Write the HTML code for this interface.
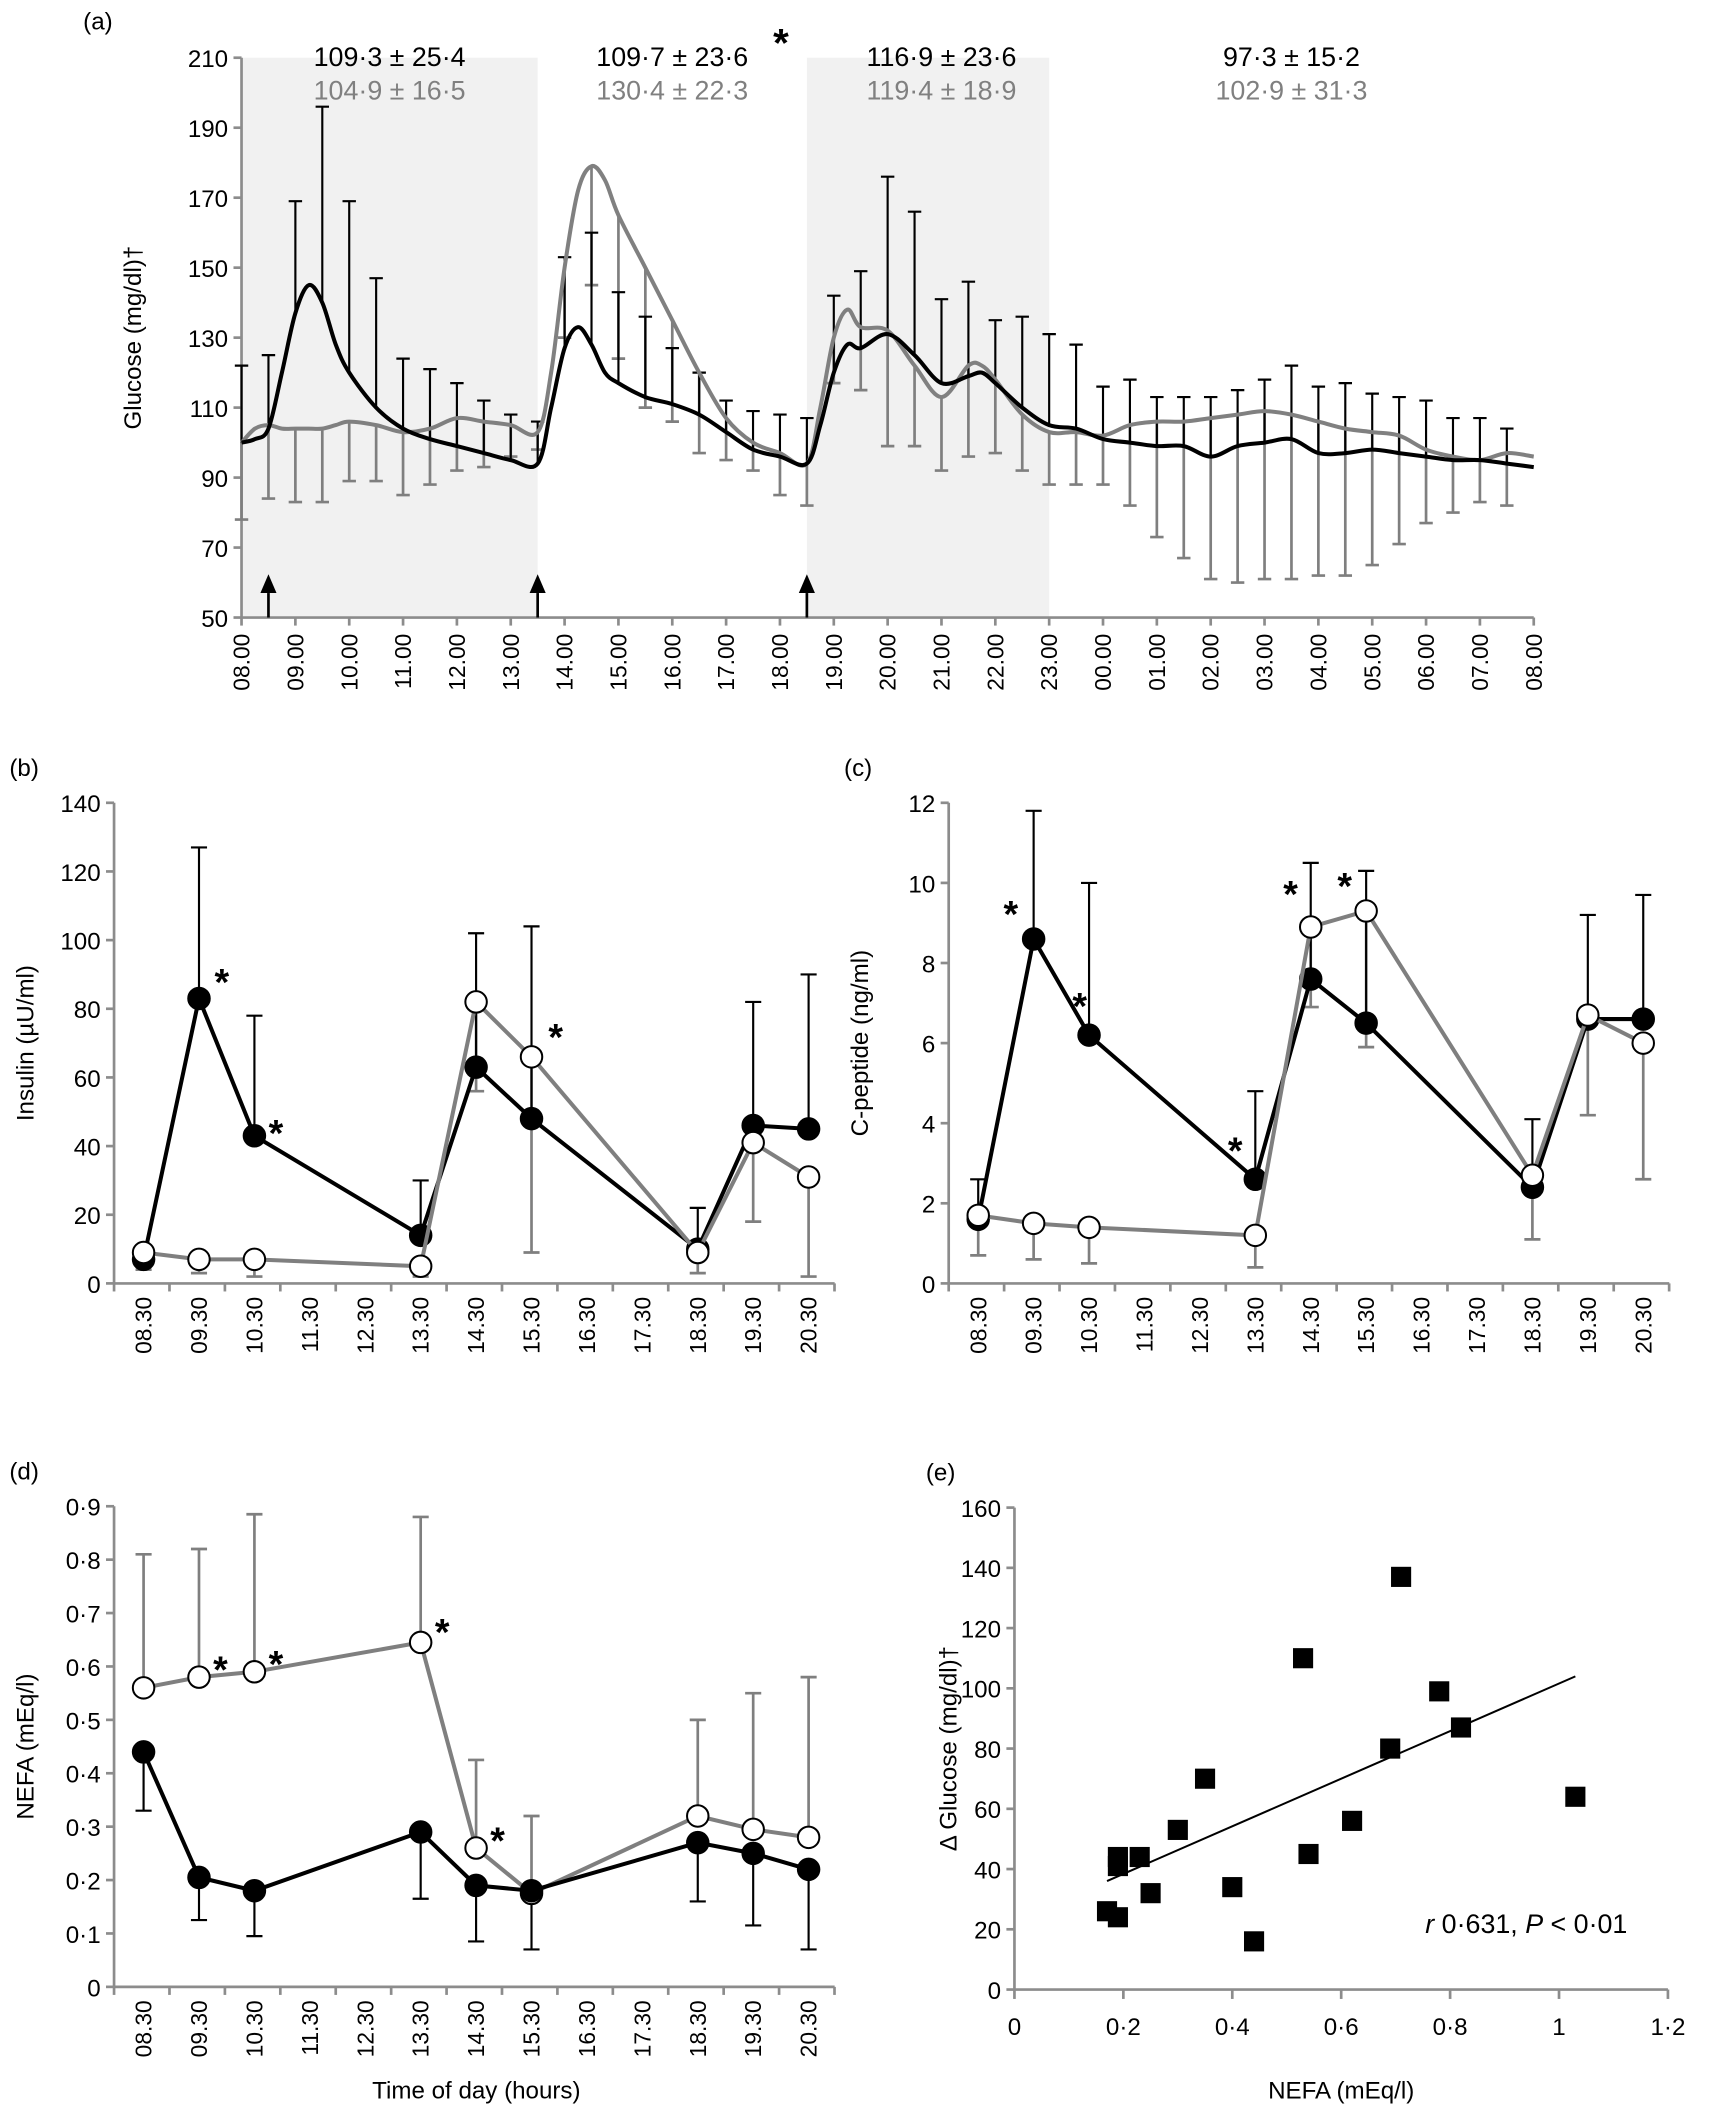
<!DOCTYPE html>
<html><head><meta charset="utf-8"><style>
html,body{margin:0;padding:0;background:#fff}
svg{display:block}
text{font-family:"Liberation Sans",sans-serif}
</style></head><body>
<svg id="fig" width="1731" height="2105" viewBox="0 0 1290 1568" preserveAspectRatio="none" xmlns="http://www.w3.org/2000/svg"></svg>
<script>
// ---------- Panel (a) data: glucose (time in hours from 08:00) ----------
const gTimes=[0,0.25,0.5,0.75,1,1.25,1.5,1.75,2,2.5,3,3.5,4,4.5,5,5.5,5.75,6,6.25,6.5,6.75,7,7.5,8,8.5,9,9.5,10,10.5,10.75,11,11.25,11.5,12,12.5,13,13.5,13.75,14,14.5,15,15.5,16,16.5,17,17.5,18,18.5,19,19.5,20,20.5,21,21.5,22,22.5,23,23.5,24];
const gBlack=[100,101,104,120,137,145,140,128,120,110,104,101,99,97,95,94,110,127,133,128,120,117,113,111,108,103,98,96,94,105,120,128,127,131,125,117,119,120,117,110,105,104,101,100,99,99,96,99,100,101,97,97,98,97,96,95,95,94,93];
const gGray=[100,104,105,104,104,104,104,105,106,105,103,104,107,106,105,103,120,150,172,179,175,165,150,135,120,107,100,97,94,110,130,138,133,132,122,113,122,122,118,108,103,103,102,105,106,106,107,108,109,108,106,104,103,102,98,96,95,97,96];
const ebTimes=[0,0.5,1,1.5,2,2.5,3,3.5,4,4.5,5,5.5,6,6.5,7,7.5,8,8.5,9,9.5,10,10.5,11,11.5,12,12.5,13,13.5,14,14.5,15,15.5,16,16.5,17,17.5,18,18.5,19,19.5,20,20.5,21,21.5,22,22.5,23,23.5];
const ebBlackTop=[122,125,169,196,169,147,124,121,117,112,108,106,153,160,143,136,127,120,112,109,108,107,142,149,176,166,141,146,135,136,131,128,116,118,113,113,113,115,118,122,116,117,114,113,112,107,107,104];
const ebGrayBot=[78,84,83,83,89,89,85,88,92,93,96,98,130,145,124,110,106,97,95,92,85,82,117,115,99,99,92,96,97,92,88,88,88,82,73,67,61,60,61,61,62,62,65,71,77,80,83,82];
const aTicks=[50,70,90,110,130,150,170,190,210];
const aHours=["08.00","09.00","10.00","11.00","12.00","13.00","14.00","15.00","16.00","17.00","18.00","19.00","20.00","21.00","22.00","23.00","00.00","01.00","02.00","03.00","04.00","05.00","06.00","07.00","08.00"];

// ---------- Panels b,c,d categories ----------
const cats=["08.30","09.30","10.30","11.30","12.30","13.30","14.30","15.30","16.30","17.30","18.30","19.30","20.30"];
const sampleIdx=[0,1,2,5,6,7,10,11,12];
const insB=[7,83,43,14,63,48,10,46,45];
const insBTop=[9,127,78,30,102,104,22,82,90];
const insG=[9,7,7,5,82,66,9,41,31];
const insGBot=[4,3,2,2,56,9,3,18,2];
const cpB=[1.6,8.6,6.2,2.6,7.6,6.5,2.4,6.6,6.6];
const cpBTop=[2.6,11.8,10.0,4.8,10.5,10.3,4.1,9.2,9.7];
const cpG=[1.7,1.5,1.4,1.2,8.9,9.3,2.7,6.7,6.0];
const cpGBot=[0.7,0.6,0.5,0.4,6.9,5.9,1.1,4.2,2.6];
const nefaB=[0.44,0.205,0.18,0.29,0.19,0.18,0.27,0.25,0.22];
const nefaBBot=[0.33,0.125,0.095,0.165,0.085,0.07,0.16,0.115,0.07];
const nefaG=[0.56,0.58,0.59,0.645,0.26,0.175,0.32,0.295,0.28];
const nefaGTop=[0.81,0.82,0.885,0.88,0.425,0.32,0.50,0.55,0.58];

// ---------- Panel (e) scatter ----------
const eX=[0.17,0.19,0.19,0.19,0.23,0.25,0.30,0.35,0.40,0.44,0.53,0.54,0.62,0.69,0.71,0.78,0.82,1.03];
const eY=[26,24,41,44,44,32,53,70,34,16,110,45,56,80,137,99,87,64];
const eFit=[22.6,79];

const svg=document.getElementById('fig');
const NS='http://www.w3.org/2000/svg';
function el(tag,attrs,parent,txt){const e=document.createElementNS(NS,tag);for(const k in attrs)e.setAttribute(k,attrs[k]);if(txt!==undefined)e.textContent=txt;(parent||svg).appendChild(e);return e;}
const AX='#8c8c8c', GR='#7f7f7f';

function catmull(pts){let d='M'+pts[0][0]+','+pts[0][1];for(let i=0;i<pts.length-1;i++){const p0=pts[i-1]||pts[i],p1=pts[i],p2=pts[i+1],p3=pts[i+2]||p2;d+=' C'+(p1[0]+(p2[0]-p0[0])/6)+','+(p1[1]+(p2[1]-p0[1])/6)+' '+(p2[0]-(p3[0]-p1[0])/6)+','+(p2[1]-(p3[1]-p1[1])/6)+' '+p2[0]+','+p2[1];}return d;}

// ===== Panel A =====
{
const g=el('g',{});
const X=h=>180+h*(963/24), Y=v=>460-(v-50)*(417/160);
el('text',{x:62,y:22,'font-size':18},g,'(a)');
let r=el('rect',{x:X(0),y:Y(210),width:X(5.5)-X(0),height:Y(50)-Y(210),fill:'#f1f1f1'},g);
r=el('rect',{x:X(10.5),y:Y(210),width:X(15)-X(10.5),height:Y(50)-Y(210),fill:'#f1f1f1'},g);
el('line',{x1:X(0),y1:Y(210),x2:X(0),y2:Y(50),stroke:AX,'stroke-width':2},g);
el('line',{x1:X(0),y1:Y(50),x2:X(24),y2:Y(50),stroke:AX,'stroke-width':2},g);
aTicks.forEach(v=>{el('line',{x1:X(0)-6,y1:Y(v),x2:X(0),y2:Y(v),stroke:AX,'stroke-width':2},g);const t=el('text',{x:X(0)-10,y:Y(v)+7,'font-size':18,'text-anchor':'end'},g,v);});
aHours.forEach((s,i)=>{el('line',{x1:X(i),y1:Y(50),x2:X(i),y2:Y(50)+6,stroke:AX,'stroke-width':2},g);const t=el('text',{x:0,y:0,'font-size':17,'text-anchor':'end',transform:`translate(${X(i)+6},${Y(50)+12}) rotate(-90)`},g,s);});
let t=el('text',{x:0,y:0,'font-size':18,'text-anchor':'middle',transform:`translate(105,${Y(130)}) rotate(-90)`},g,'Glucose (mg/dl)†');
// error bars
ebTimes.forEach((h,i)=>{const x=X(h),y0=Y(gGray[gTimes.indexOf(h)]),y1=Y(ebGrayBot[i]);const e=el('path',{d:`M${x},${y0}V${y1}M${x-5},${y1}H${x+5}`,stroke:GR,'stroke-width':2,fill:'none'},g);});
ebTimes.forEach((h,i)=>{const x=X(h),y0=Y(gBlack[gTimes.indexOf(h)]),y1=Y(ebBlackTop[i]);const e=el('path',{d:`M${x},${y0}V${y1}M${x-5},${y1}H${x+5}`,stroke:'#000','stroke-width':1.6,fill:'none'},g);});
let p=el('path',{d:catmull(gTimes.map((h,i)=>[X(h),Y(gGray[i])])),stroke:'#808080','stroke-width':3,fill:'none'},g);
p=el('path',{d:catmull(gTimes.map((h,i)=>[X(h),Y(gBlack[i])])),stroke:'#000','stroke-width':3,fill:'none'},g);
[0.5,5.5,10.5].forEach(h=>{const a=el('path',{d:`M${X(h)},${Y(50)}V${Y(57)}`,stroke:'#000','stroke-width':2},g);el('polygon',{points:`${X(h)-6},${Y(57)} ${X(h)+6},${Y(57)} ${X(h)},${Y(57)-14}`,fill:'#000'},g);});
const ann=[[X(2.75),'109·3 ± 25·4','104·9 ± 16·5'],[X(8),'109·7 ± 23·6','130·4 ± 22·3'],[X(13),'116·9 ± 23·6','119·4 ± 18·9'],[X(19.5),'97·3 ± 15·2','102·9 ± 31·3']];
ann.forEach(a=>{let t1=el('text',{x:a[0],y:49,'font-size':20,'text-anchor':'middle'},g,a[1]);let t2=el('text',{x:a[0],y:74,'font-size':20,'text-anchor':'middle',fill:'#808080'},g,a[2]);});
el('text',{x:582,y:42,'font-size':30,'font-weight':'bold','text-anchor':'middle'},g,'*');
}

// ===== Panels B,C,D =====
function catPanel(o){
const g=el('g',{});
const X=i=>o.x0+22+i*41.3, Y=v=>o.yb-(v-0)*(o.yb-o.yt)/o.max;
el('text',{x:o.x0-78,y:o.yt-20,'font-size':18},g,o.label);
el('line',{x1:o.x0,y1:o.yt,x2:o.x0,y2:o.yb,stroke:AX,'stroke-width':2},g);
el('line',{x1:o.x0,y1:o.yb,x2:o.x0+537,y2:o.yb,stroke:AX,'stroke-width':2},g);
o.ticks.forEach((v,i)=>{el('line',{x1:o.x0-6,y1:Y(v),x2:o.x0,y2:Y(v),stroke:AX,'stroke-width':2},g);const t=el('text',{x:o.x0-10,y:Y(v)+7,'font-size':18,'text-anchor':'end'},g,o.tl[i]);});
for(let i=0;i<=13;i++)el('line',{x1:o.x0+i*41.3,y1:o.yb,x2:o.x0+i*41.3,y2:o.yb+6,stroke:AX,'stroke-width':2},g);
cats.forEach((c,i)=>{const t=el('text',{x:0,y:0,'font-size':17,'text-anchor':'end',transform:`translate(${X(i)+6},${o.yb+10}) rotate(-90)`},g,c);});
let t=el('text',{x:0,y:0,'font-size':18,'text-anchor':'middle',transform:`translate(${o.x0-60},${(o.yt+o.yb)/2}) rotate(-90)`},g,o.ytitle);
const bars=(vals,ends,col,w)=>vals.forEach((v,k)=>{const x=X(sampleIdx[k]),y1=Y(ends[k]);const e=el('path',{d:`M${x},${Y(v)}V${y1}M${x-6},${y1}H${x+6}`,stroke:col,'stroke-width':w,fill:'none'},g);});
bars(o.g,o.ge,GR,2);bars(o.b,o.be,'#000',1.6);
const line=(vals,col)=>{const p=el('polyline',{points:vals.map((v,k)=>X(sampleIdx[k])+','+Y(v)).join(' '),stroke:col,'stroke-width':3,fill:'none'},g);return p;};
const order=o.grayFirst?[['g',GR],['b','#000']]:[['b','#000'],['g',GR]];
order.forEach(([s,col])=>{const p=line(o[s],col);
o[s].forEach((v,k)=>{const c=el('circle',{cx:X(sampleIdx[k]),cy:Y(v),r:8,fill:s==='b'?'#000':'#fff',stroke:'#000','stroke-width':1.5},g);});});
o.stars.forEach(s=>el('text',{x:X(s[0])+s[1],y:Y(s[2]),'font-size':28,'font-weight':'bold','text-anchor':'middle'},g,'*'));
if(o.xtitle){const t=el('text',{x:o.x0+270,y:1563,'font-size':18,'text-anchor':'middle'},g,o.xtitle);}
}
catPanel({name:'panel-b-insulin',label:'(b)',x0:85,yt:598,yb:956,max:140,ticks:[0,20,40,60,80,100,120,140],tl:['0','20','40','60','80','100','120','140'],ytitle:'Insulin (µU/ml)',b:insB,be:insBTop,g:insG,ge:insGBot,grayFirst:false,stars:[[1,17,84],[2,16,40],[7,18,68]]});
catPanel({name:'panel-c-cpeptide',label:'(c)',x0:707,yt:598,yb:956,max:12,ticks:[0,2,4,6,8,10,12],tl:['0','2','4','6','8','10','12'],ytitle:'C-peptide (ng/ml)',b:cpB,be:cpBTop,g:cpG,ge:cpGBot,grayFirst:false,stars:[[1,-17,8.9],[2,-7,6.6],[5,-15,3.0],[6,-15,9.4],[7,-16,9.6]]});
catPanel({name:'panel-d-nefa',label:'(d)',x0:85,yt:1122,yb:1480,max:0.9,ticks:[0,0.1,0.2,0.3,0.4,0.5,0.6,0.7,0.8,0.9],tl:['0','0·1','0·2','0·3','0·4','0·5','0·6','0·7','0·8','0·9'],ytitle:'NEFA (mEq/l)',b:nefaB,be:nefaBBot,g:nefaG,ge:nefaGTop,grayFirst:true,xtitle:'Time of day (hours)',stars:[[1,16,0.57],[2,16,0.58],[5,16,0.64],[6,16,0.25]]});

// ===== Panel E =====
{
const g=el('g',{});
const X=v=>756+v*(487/1.2), Y=v=>1482-v*(359/160);
el('text',{x:690,y:1103,'font-size':18},g,'(e)');
el('line',{x1:X(0),y1:Y(0),x2:X(0),y2:Y(160),stroke:AX,'stroke-width':2},g);
el('line',{x1:X(0),y1:Y(0),x2:X(1.2),y2:Y(0),stroke:AX,'stroke-width':2},g);
[0,20,40,60,80,100,120,140,160].forEach(v=>{el('line',{x1:X(0)-6,y1:Y(v),x2:X(0),y2:Y(v),stroke:AX,'stroke-width':2},g);const t=el('text',{x:X(0)-10,y:Y(v)+7,'font-size':18,'text-anchor':'end'},g,v);});
['0','0·2','0·4','0·6','0·8','1','1·2'].forEach((s,i)=>{const v=i*0.2;el('line',{x1:X(v),y1:Y(0),x2:X(v),y2:Y(0)+7,stroke:AX,'stroke-width':2},g);const t=el('text',{x:X(v),y:Y(0)+34,'font-size':18,'text-anchor':'middle'},g,s);});
let t=el('text',{x:X(0.6),y:1563,'font-size':18,'text-anchor':'middle'},g,'NEFA (mEq/l)');
t=el('text',{x:0,y:0,'font-size':18,'text-anchor':'middle',transform:`translate(713,${Y(80)}) rotate(-90)`},g,'Δ Glucose (mg/dl)†');
const fx=[Math.min(...eX),Math.max(...eX)];
const l=el('line',{x1:X(fx[0]),y1:Y(eFit[0]+eFit[1]*fx[0]),x2:X(fx[1]),y2:Y(eFit[0]+eFit[1]*fx[1]),stroke:'#000','stroke-width':1.5},g);
eX.forEach((x,i)=>{const r=el('rect',{x:X(x)-7.5,y:Y(eY[i])-7.5,width:15,height:15,fill:'#000'},g);});
t=el('text',{x:X(0.94),y:1440,'font-size':20,'text-anchor':'middle'},g);
el('tspan',{'font-style':'italic'},t,'r');el('tspan',{},t,' 0·631, ');el('tspan',{'font-style':'italic'},t,'P');el('tspan',{},t,' < 0·01');
}
</script>
</body></html>
